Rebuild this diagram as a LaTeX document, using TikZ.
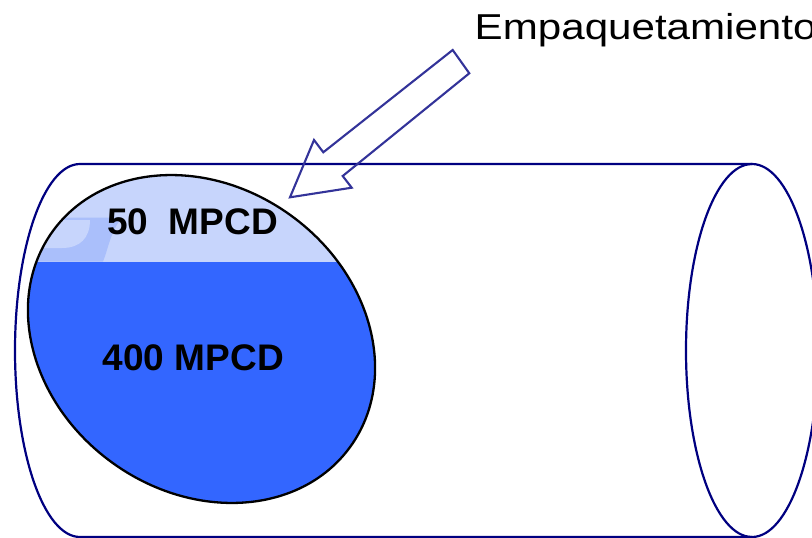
\documentclass[tikz,border=0pt]{standalone}
\usepackage{fontspec}
\setmainfont{Liberation Sans}
\usetikzlibrary{shapes.geometric}
\definecolor{cylnavy}{HTML}{000080}
\definecolor{arrowblue}{HTML}{333399}
\definecolor{gasblue}{HTML}{C7D5FC}
\definecolor{bandblue}{HTML}{AABFFB}
\definecolor{liqblue}{HTML}{3366FF}
\tikzset{
  cylline/.style={draw=cylnavy, line width=2.2pt},
  blockarrow/.style={draw=arrowblue, line width=2.1pt, line join=miter},
  bigtext/.style={inner sep=0pt, anchor=base, font=\fontsize{37}{41}\selectfont\bfseries},
}
\begin{document}
\begin{tikzpicture}[x=1pt, y=-1pt]
\useasboundingbox (0,0) rectangle (812,538);
% cylinder body
\draw[cylline] (752,164) -- (80,164)
  arc[start angle=270, end angle=90, x radius=65, y radius=186.5] -- (752,537);
\draw[cylline] (752,350.5) ellipse[x radius=66, y radius=186.5];
% cross-section
\begin{scope}
  \path[clip, rotate around={-36:(201.5,339)}] (201.5,339) ellipse[x radius=183.7, y radius=152.5];
  \fill[liqblue] (0,0) rectangle (400,538);
  \fill[gasblue] (0,0) rectangle (400,261.5);
  \fill[bandblue] (20,217.5) -- (122,217.5)
     .. controls (110,232) and (108,250) .. (103,261.5) -- (20,261.5) -- cycle;
  \fill[gasblue] (20,220) -- (90,220)
     .. controls (90,238) and (80,248) .. (62,248) -- (20,248) -- cycle;
\end{scope}
\node[draw=black, line width=2.3pt, ellipse, inner sep=0pt, minimum width=367.4pt,
  minimum height=305pt, rotate=-36] (sec) at (201.5,339) {};
\node[bigtext] (gas) at (192.5,234.3) {50\ \ MPCD};
\node[bigtext] (liq) at (193.3,370) {400 MPCD};
% label
\node[inner sep=0pt, anchor=base west, xscale=1.17, font=\fontsize{36}{40}\selectfont] (lab) at (474.5,39.5) {Empaquetamiento};
% block arrow
\draw[blockarrow] (452.7,50) -- (469.3,73.3) -- (342.7,176) -- (351.7,187.7)
  -- (290,197.3) -- (314,140) -- (323.3,152.3) -- cycle;
\end{tikzpicture}
\end{document}
